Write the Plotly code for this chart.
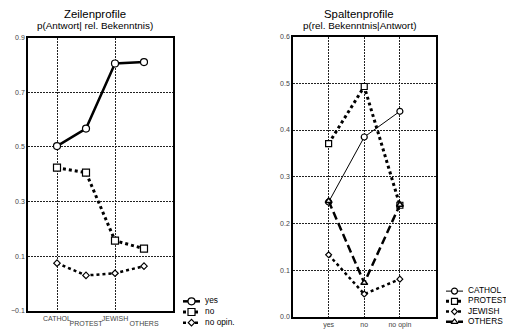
import plotly.graph_objects as go

# Row profiles: p(answer | religious denomination)
row_cats = ["CATHOL", "PROTEST", "JEWISH", "OTHERS"]
row_yes = [0.503, 0.567, 0.805, 0.810]
row_no = [0.424, 0.406, 0.157, 0.128]
row_noop = [0.075, 0.030, 0.038, 0.064]
row_names = ["yes", "no", "no opin."]
row_ticks = [-0.1, 0.1, 0.3, 0.5, 0.7, 0.9]

# Column profiles: p(religious denomination | answer)
col_cats = ["yes", "no", "no opin"]
col_cathol = [0.246, 0.385, 0.440]
col_protest = [0.371, 0.493, 0.239]
col_jewish = [0.133, 0.049, 0.081]
col_others = [0.248, 0.073, 0.240]
col_names = ["CATHOL", "PROTEST", "JEWISH", "OTHERS"]
col_ticks = [0.0, 0.1, 0.2, 0.3, 0.4, 0.5, 0.6]

FONT = "Liberation Sans, Arial, sans-serif"
INK = "black"

row_styles = [
    (dict(color=INK, width=2.5), dict(symbol="circle", size=7)),
    (dict(color=INK, width=3, dash="dot"), dict(symbol="square", size=7)),
    (dict(color=INK, width=2.5, dash="dot"), dict(symbol="diamond", size=5)),
]
col_styles = [
    (dict(color=INK, width=1), dict(symbol="circle", size=6)),
    (dict(color=INK, width=3, dash="dot"), dict(symbol="square", size=6)),
    (dict(color=INK, width=2.5, dash="dot"), dict(symbol="diamond", size=4.5)),
    (dict(color=INK, width=2.5, dash="8px,4px"), dict(symbol="triangle-up", size=6)),
]


def marker(spec, lw=1.2):
    return dict(**spec, color="white", line=dict(color=INK, width=lw))


fig = go.Figure()

row_x = list(range(len(row_cats)))
for name, vals, (ln, mk) in zip(row_names, [row_yes, row_no, row_noop], row_styles):
    fig.add_trace(go.Scatter(
        x=row_x, y=vals, name=name, mode="lines+markers",
        line=ln, marker=marker(mk), xaxis="x", yaxis="y", showlegend=False,
    ))

# empty trace so the staggered second row of category labels gets its own axis
fig.add_trace(go.Scatter(x=[], y=[], xaxis="x5", yaxis="y", showlegend=False,
                         hoverinfo="skip"))

col_x = list(range(len(col_cats)))
for name, vals, (ln, mk) in zip(col_names, [col_cathol, col_protest, col_jewish, col_others], col_styles):
    fig.add_trace(go.Scatter(
        x=col_x, y=vals, name=name, mode="lines+markers",
        line=ln, marker=marker(mk, 1.5 if mk["symbol"] == "triangle-up" else 1.2),
        xaxis="x2", yaxis="y2", showlegend=False,
    ))


# Compact keys: short line sample with marker, label to the right
def add_key(names, styles, xa, ya):
    for i, (name, (ln, mk)) in enumerate(zip(names, styles)):
        fig.add_trace(go.Scatter(x=[0, 1], y=[i, i], mode="lines", line=ln,
                                 xaxis=xa, yaxis=ya, showlegend=False, hoverinfo="skip"))
        fig.add_trace(go.Scatter(x=[0.5], y=[i], mode="markers", marker=marker(mk),
                                 xaxis=xa, yaxis=ya, showlegend=False, hoverinfo="skip"))
        fig.add_trace(go.Scatter(x=[1.3], y=[i], mode="text", text=[name],
                                 textposition="middle right",
                                 textfont=dict(family=FONT, size=8.3, color=INK),
                                 xaxis=xa, yaxis=ya, showlegend=False, hoverinfo="skip"))


add_key(row_names, row_styles, "x3", "y3")
add_key(col_names, col_styles, "x4", "y4")

W, H = 506, 335


def px_x(a, b):
    return [a / W, b / W]


def px_y(top, bottom):
    return [1 - bottom / H, 1 - top / H]


frame = dict(showline=True, linecolor=INK, linewidth=1.5, mirror=True,
             showgrid=True, gridcolor="#222", gridwidth=1, griddash="2px,1px",
             zeroline=False, ticks="", tickfont=dict(family=FONT, size=7, color="#444"),
             automargin=False, fixedrange=True)

hidden = dict(visible=False, fixedrange=True, automargin=False)

fig.update_layout(
    template="none",
    width=W, height=H,
    margin=dict(l=0, r=0, t=0, b=0),
    paper_bgcolor="white", plot_bgcolor="white",
    font=dict(family=FONT, color=INK),
    xaxis=dict(**frame, domain=px_x(28, 173), anchor="y", range=[-1, 4], tickangle=0,
               tickmode="array", tickvals=row_x[0::2], ticktext=row_cats[0::2]),
    xaxis5=dict(overlaying="x", anchor="y", side="bottom", range=[-1, 4], tickangle=0,
                showline=False, showgrid=False, zeroline=False, ticks="",
                tickmode="array", tickvals=row_x[1::2], ticktext=row_cats[1::2],
                ticklabelstandoff=7, automargin=False, fixedrange=True,
                tickfont=dict(family=FONT, size=7, color="#444")),
    yaxis=dict(**frame, domain=px_y(37.5, 311), anchor="x", range=[-0.1, 0.9],
               tickmode="array", tickvals=row_ticks, tickformat=".1f"),
    xaxis2=dict(**frame, domain=px_x(293, 435.5), anchor="y2", range=[-1, 3], tickangle=0,
                tickmode="array", tickvals=col_x, ticktext=col_cats),
    yaxis2=dict(**frame, domain=px_y(36.5, 317), anchor="x2", range=[0, 0.6],
                tickmode="array", tickvals=col_ticks, tickformat=".1f"),
    xaxis3=dict(**hidden, domain=px_x(183, 250), anchor="y3", range=[0, 67 / 17]),
    yaxis3=dict(**hidden, domain=px_y(296, 328), anchor="x3", range=[2.5, -0.5]),
    xaxis4=dict(**hidden, domain=px_x(446, 506), anchor="y4", range=[0, 60 / 17]),
    yaxis4=dict(**hidden, domain=px_y(286, 327), anchor="x4", range=[3.5, -0.5]),
    annotations=[
        dict(text="Zeilenprofile", x=95 / W, y=1 - 14 / H, xref="paper", yref="paper",
             xanchor="center", yanchor="middle", showarrow=False,
             font=dict(family=FONT, size=11.4, color=INK)),
        dict(text="p(Antwort| rel. Bekenntnis)", x=95 / W, y=1 - 25.5 / H,
             xref="paper", yref="paper", xanchor="center", yanchor="middle",
             showarrow=False, font=dict(family=FONT, size=9.9, color=INK)),
        dict(text="Spaltenprofile", x=359 / W, y=1 - 14 / H, xref="paper", yref="paper",
             xanchor="center", yanchor="middle", showarrow=False,
             font=dict(family=FONT, size=11.4, color=INK)),
        dict(text="p(rel. Bekenntnis|Antwort)", x=359 / W, y=1 - 25.5 / H,
             xref="paper", yref="paper", xanchor="center", yanchor="middle",
             showarrow=False, font=dict(family=FONT, size=9.9, color=INK)),
    ],
)

fig.write_html("out.html")
